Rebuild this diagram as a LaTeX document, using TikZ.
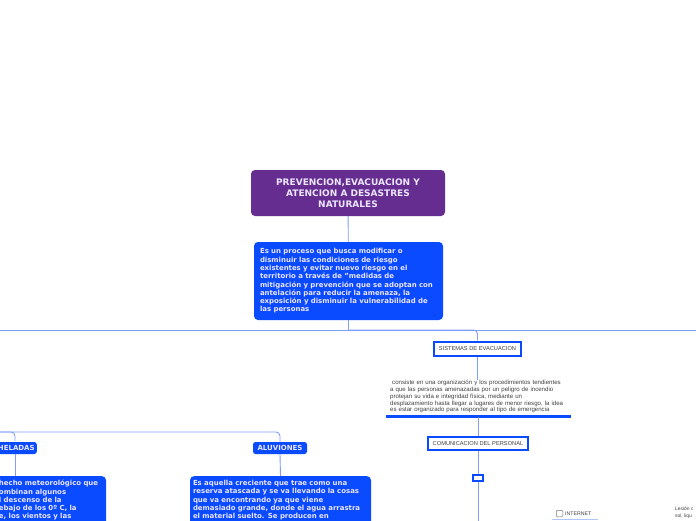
\documentclass[tikz,border=0pt]{standalone}
\usepackage{fontspec}
\setmainfont{DejaVu Sans}
\newfontfamily\arialf{Liberation Sans}
\definecolor{purplebox}{HTML}{662D91}
\definecolor{bluebox}{HTML}{0B4BFF}
\definecolor{connc}{HTML}{7F9FF7}
\definecolor{lavtext}{HTML}{ECE6FF}
\definecolor{graytext}{HTML}{404040}
\tikzset{
  conn/.style={draw=connc, line width=0.9pt, rounded corners=4pt},
  titlebox/.style={fill=purplebox, rounded corners=4pt, text=lavtext, font=\fontsize{9}{11}\selectfont\bfseries, align=center, inner sep=0pt},
  bluetext/.style={fill=bluebox, rounded corners=4pt, text=lavtext, font=\fontsize{6.95}{8.3}\selectfont\bfseries, align=left, inner sep=0pt},
  bluelabel/.style={fill=bluebox, rounded corners=2.5pt, text=lavtext, font=\fontsize{7}{8}\selectfont\bfseries, inner sep=0pt},
  framebox/.style={draw=bluebox, line width=2.6pt, fill=white, text=graytext, font=\arialf\fontsize{5.7}{6.5}\selectfont, inner sep=0pt},
  plaintext/.style={text=graytext, font=\arialf\fontsize{6.1}{6.8}\selectfont, align=left, inner sep=0pt}
}
\begin{document}
\begin{tikzpicture}[x=1pt,y=-1pt]
\useasboundingbox[fill=white] (0,0) rectangle (696,520);

% nodes
\node[titlebox, minimum width=194pt, minimum height=46pt] (title) at (348,193)
  {PREVENCION,EVACUACION Y\\ATENCION A DESASTRES\\NATURALES};
\node[bluetext, minimum width=189pt, minimum height=78pt, text width=177pt] (desc) at (348.5,281)
  {Es un proceso que busca modificar o\\
   disminuir las condiciones de riesgo\\
   existentes y evitar nuevo riesgo en el\\
   territorio a través de "medidas de\\
   mitigación y prevención que se adoptan con\\
   antelación para reducir la amenaza, la\\
   exposición y disminuir la vulnerabilidad de\\
   las personas};

\node[framebox, minimum width=87pt, minimum height=14pt] (sist) at (477.5,349) {SISTEMAS DE EVACUACION};
\node[plaintext, text width=180pt, anchor=north west] (evtext) at (390,380)
  {\ consiste en una organización y los procedimientos tendientes\\
   a que las personas amenazadas por un peligro de incendio\\
   protejan su vida e integridad física, mediante un\\
   desplazamiento hasta llegar a lugares de menor riesgo, la idea\\
   es estar organizado para responder al tipo de emergencia};
\coordinate (ulL) at (386,416.5);
\coordinate (ulR) at (571,416.5);
\coordinate (ulM) at (478,416.5);
\node[framebox, minimum width=100pt, minimum height=13pt] (comu) at (478,443.5) {COMUNICACION DEL PERSONAL};
\node[framebox, minimum width=10pt, minimum height=6pt, line width=2.4pt] (small) at (478,478) {};
\coordinate (sBot) at (478,522);

\node[bluelabel, minimum width=45pt, minimum height=12pt, anchor=east] (heladas) at (37,448) {\hspace*{4pt}HELADAS};
\node[bluelabel, minimum width=54pt, minimum height=12pt] (aluv) at (280,448) {ALUVIONES};

\node[bluetext, text width=174pt, minimum width=182pt, anchor=north, align=left, inner ysep=4pt] (heltxt) at (15,476)
  {\hspace*{71pt}hecho meteorológico que\\
   \hspace*{71pt}ombinan algunos\\
   \hspace*{71pt}l descenso de la\\
   \hspace*{71pt}ebajo de los 0º C, la\\
   \hspace*{71pt}e, los vientos y las\\ \mbox{}};
\node[bluetext, text width=175pt, minimum width=181pt, anchor=north, align=left, inner ysep=4pt] (aluvtxt) at (280.5,476)
  {Es aquella creciente que trae como una\\
   reserva atascada y se va llevando la cosas\\
   que va encontrando ya que viene\\
   demasiado grande, donde el agua arrastra\\
   el material suelto. Se producen en\\ \mbox{}};

% INTERNET item
\node[draw=graytext!70, rounded corners=1pt, minimum size=6.5pt, inner sep=0pt, line width=0.5pt] (chk) at (559.5,513.5) {};
\node[plaintext, font=\arialf\fontsize{5.2}{6}\selectfont, anchor=west] (inet) at (565,513.8) {INTERNET};
\coordinate (inL) at (552,519.5);
\coordinate (inR) at (598,519.5);

\node[plaintext, font=\arialf\fontsize{4.9}{6.5}\selectfont, anchor=north west] (lesion) at (675,507) {Lesión c\\sol, liqu};

% connectors
\coordinate (bus) at (348.5,330);
\coordinate (busL) at (-5,330);
\coordinate (busR) at (700,330);
\coordinate (hL) at (-5,432);

\draw[conn] (title) -- (desc);
\draw[conn] (desc.south) -- (bus);
\draw[conn, rounded corners=0pt] (busL) -- (busR);
\draw[conn] (bus) -| (sist.north);
\draw[conn] (sist.south) -- (evtext.north -| sist.south);
\draw[draw=bluebox, line width=3pt] (ulL) -- (ulR);
\draw[conn] (ulM) -- (comu.north);
\draw[conn] (comu.south) -- (small.north);
\draw[conn] (small.south) -- (sBot);

\draw[conn] (hL) -| (15,441);
\draw[conn] (hL) -| (aluv.north);
\draw[conn] (15,454) -- (heltxt.north);
\draw[conn] (aluv.south) -- (aluvtxt.north);

\draw[draw=connc!60, line width=0.8pt] (inL) -- (inR);
\end{tikzpicture}
\end{document}
